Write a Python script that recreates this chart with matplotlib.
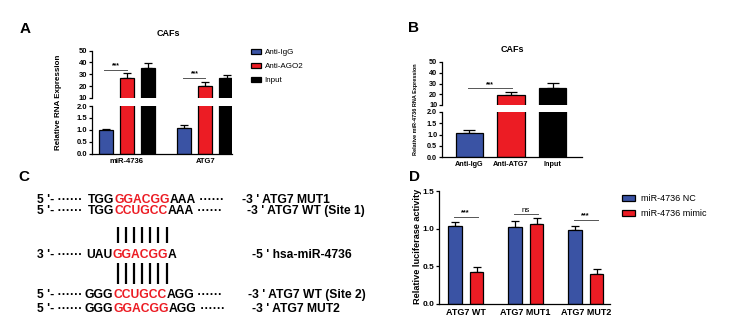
import matplotlib
matplotlib.use('Agg')
import matplotlib.pyplot as plt
from matplotlib.patches import Patch
import numpy as np

plt.rcParams['font.family'] = ['Liberation Sans', 'DejaVu Sans']

# ---------------- data ----------------
a_groups = ['miR-4736', 'ATG7']
a_series = ['Anti-IgG', 'Anti-AGO2', 'Input']
a_igg = [1.01, 1.08]
a_igg_err = [0.04, 0.11]
a_ago2 = [26.8, 20.5]
a_ago2_err = [4.2, 2.9]
a_input = [35.3, 26.8]
a_input_err = [4.2, 2.2]
a_sig_y = [34, 27]
a_sig_txt = ['***', '***']

b_cats = ['Anti-IgG', 'Anti-ATG7', 'Input']
b_vals = [1.08, 19.3, 25.5]
b_errs = [0.12, 3.0, 4.7]
b_sig_y = 25.5
b_sig_txt = '***'

top_ticks = [10, 20, 30, 40, 50]
bot_ticks = [0.0, 0.5, 1.0, 1.5, 2.0]

d_groups = ['ATG7 WT', 'ATG7 MUT1', 'ATG7 MUT2']
d_series = ['miR-4736 NC', 'miR-4736 mimic']
d_nc = [1.035, 1.02, 0.98]
d_nc_err = [0.055, 0.08, 0.06]
d_mimic = [0.42, 1.06, 0.40]
d_mimic_err = [0.07, 0.08, 0.07]
d_sig_y = [1.15, 1.19, 1.115]
d_sig_txt = ['***', 'ns', '***']
d_ticks = [0.0, 0.5, 1.0, 1.5]

c_rows = [
    ("5 '- ······ ", [("TGG", 'k'), ("GGACGG", 'r'), ("AAA", 'k'), (" ······", 'k')], "-3 ' ATG7 MUT1"),
    ("5 '- ······ ", [("TGG", 'k'), ("CCUGCC", 'r'), ("AAA", 'k'), (" ······", 'k')], "-3 ' ATG7 WT (Site 1)"),
    ("3 '- ······ ", [("UAU", 'k'), ("GGACGG", 'r'), ("A", 'k')], "-5 ' hsa-miR-4736"),
    ("5 '- ······ ", [("GGG", 'k'), ("CCUGCC", 'r'), ("AGG", 'k'), (" ······", 'k')], "-3 ' ATG7 WT (Site 2)"),
    ("5 '- ······ ", [("GGG", 'k'), ("GGACGG", 'r'), ("AGG", 'k'), (" ······", 'k')], "-3 ' ATG7 MUT2"),
]

# ---------------- styles ----------------
BLUE = '#3a53a4'
RED = '#ec1c24'
BLACK = '#000000'
W, H = 748, 328
fig = plt.figure(figsize=(W / 100, H / 100), dpi=100)

ov = fig.add_axes([0, 0, 1, 1], zorder=-1)
ov.set_xlim(0, W)
ov.set_ylim(H, 0)
ov.axis('off')


def rect(x0, x1, y0, y1):
    return [x0 / W, 1 - y1 / H, (x1 - x0) / W, (y1 - y0) / H]


LW = 0.9


def style_axis(ax, fs, xfs=None):
    for s in ['top', 'right']:
        ax.spines[s].set_visible(False)
    for s in ['left', 'bottom']:
        ax.spines[s].set_linewidth(LW)
    ax.tick_params(axis='y', labelsize=fs, length=2.5, width=LW, pad=1)
    ax.tick_params(axis='x', length=0, labelsize=xfs or fs, pad=3)
    for lab in ax.get_yticklabels() + ax.get_xticklabels():
        lab.set_fontweight('bold')


def draw_bars(ax_top, ax_bot, xs, vals, errs, colors, width, cap):
    for ax in (ax_top, ax_bot):
        ax.bar(xs, vals, width, color=colors, edgecolor='black', linewidth=LW, zorder=2)
    for x, v, e in zip(xs, vals, errs):
        ax = ax_top if v > 10 else ax_bot
        ax.errorbar(x, v, yerr=[[0], [e]], fmt='none', ecolor='black',
                    elinewidth=LW, capsize=cap, capthick=LW, zorder=1)


def make_broken(r_top, r_bot, xlim):
    at = fig.add_axes(r_top)
    ab = fig.add_axes(r_bot)
    for ax in (at, ab):
        ax.set_xlim(*xlim)
    at.set_ylim(10, 50)
    at.set_yticks(top_ticks)
    at.set_yticklabels([str(t) for t in top_ticks])
    ab.set_ylim(0, 2)
    ab.set_yticks(bot_ticks)
    ab.set_yticklabels([f'{t:.1f}' for t in bot_ticks])
    at.spines['bottom'].set_visible(False)
    at.set_xticks([])
    return at, ab


# ---------------- Panel A ----------------
off = 0.27
wA = 0.18
xg = np.arange(len(a_groups))
atA, abA = make_broken(rect(92, 232, 50.5, 98), rect(92, 232, 106, 153.5), (-0.443, 1.34))
colsA = [BLUE, RED, BLACK]
for i, (vals, errs) in enumerate([(a_igg, a_igg_err), (a_ago2, a_ago2_err), (a_input, a_input_err)]):
    draw_bars(atA, abA, xg + (i - 1) * off, vals, errs, [colsA[i]] * len(vals), wA, 2.6)
abA.set_xticks(xg)
abA.set_xticklabels(a_groups)
style_axis(atA, 5.5)
style_axis(abA, 5.5)
for gi, (sy, st) in enumerate(zip(a_sig_y, a_sig_txt)):
    atA.plot([gi - off - 0.02, gi + 0.0], [sy, sy], color='#555555', lw=0.7)
    atA.text(gi - off / 2, sy + 0.5, st, ha='center', va='bottom', fontsize=4.8, fontweight='bold')
fig.text(58 / W, 1 - 102 / H, 'Relative RNA Expression', rotation=90, ha='center', va='center',
         fontsize=5.8, fontweight='bold')
fig.text(168 / W, 1 - 33 / H, 'CAFs', ha='center', va='center', fontsize=6.5, fontweight='bold')
legA = fig.legend([Patch(facecolor=c, edgecolor='black', linewidth=LW) for c in colsA], a_series,
                  loc='upper left', bbox_to_anchor=(251 / W, 1 - 49 / H), frameon=False,
                  fontsize=5.8, handlelength=1.2, handleheight=0.5, handletextpad=0.5,
                  labelspacing=0.85, borderpad=0, borderaxespad=0)

# ---------------- Panel B ----------------
xb = np.arange(len(b_cats))
atB, abB = make_broken(rect(442, 582, 62, 105), rect(442, 582, 112, 157), (-0.66, 2.71))
draw_bars(atB, abB, xb, b_vals, b_errs, [BLUE, RED, BLACK], 0.66, 4.5)
abB.set_xticks(xb)
abB.set_xticklabels(b_cats)
style_axis(atB, 5.2)
style_axis(abB, 5.2)
atB.plot([-0.03, 1.02], [b_sig_y, b_sig_y], color='#555555', lw=0.7)
atB.text(0.5, b_sig_y + 0.5, b_sig_txt, ha='center', va='bottom', fontsize=4.8, fontweight='bold')
fig.text(416 / W, 1 - 109 / H, 'Relative miR-4736 RNA Expression', rotation=90, ha='center',
         va='center', fontsize=4.0, fontweight='bold')
fig.text(512 / W, 1 - 50 / H, 'CAFs', ha='center', va='center', fontsize=6.5, fontweight='bold')

# ---------------- Panel D ----------------
axD = fig.add_axes(rect(439, 610, 191, 304))
xd = np.arange(len(d_groups))
offD = 0.18
wD = 0.23
axD.bar(xd - offD, d_nc, wD, color=BLUE, edgecolor='black', linewidth=LW, zorder=2, label=d_series[0])
axD.bar(xd + offD, d_mimic, wD, color=RED, edgecolor='black', linewidth=LW, zorder=2, label=d_series[1])
axD.errorbar(xd - offD, d_nc, yerr=[np.zeros(3), d_nc_err], fmt='none', ecolor='black',
             elinewidth=LW, capsize=2.6, capthick=LW, zorder=1)
axD.errorbar(xd + offD, d_mimic, yerr=[np.zeros(3), d_mimic_err], fmt='none', ecolor='black',
             elinewidth=LW, capsize=2.6, capthick=LW, zorder=1)
axD.set_xlim(-0.445, 2.405)
axD.set_ylim(0, 1.5)
axD.set_yticks(d_ticks)
axD.set_yticklabels([f'{t:.1f}' for t in d_ticks])
axD.set_xticks(xd)
axD.set_xticklabels(d_groups)
style_axis(axD, 6, 6.5)
for gi, (sy, st) in enumerate(zip(d_sig_y, d_sig_txt)):
    axD.plot([gi - offD - 0.02, gi + offD + 0.02], [sy, sy], color='#555555', lw=0.7)
    axD.text(gi, sy + 0.01, st, ha='center', va='bottom', fontsize=5.8 if st == 'ns' else 5.2,
             fontweight='bold' if st != 'ns' else 'normal')
fig.text(417 / W, 1 - 246 / H, 'Relative luciferase activity', rotation=90, ha='center', va='center',
         fontsize=6.6, fontweight='bold')
axD.legend(loc='upper left', bbox_to_anchor=(622 / W, 1 - 194 / H), bbox_transform=fig.transFigure,
           frameon=False, fontsize=6.5, handlelength=1.45, handleheight=0.6, handletextpad=0.7,
           labelspacing=0.65, borderpad=0, borderaxespad=0)

# ---------------- Panel C ----------------
FS_C = 8.7
prefix_x = 37
seq_x = [88, 88, 86, 85, 85]
lab_x = [242, 247, 252, 248, 252]
base_y = [202.7, 214.3, 257.7, 297.7, 311.7]
for (pre, pieces, lab), sx, lx, by in zip(c_rows, seq_x, lab_x, base_y):
    ov.text(prefix_x, by, pre, fontsize=FS_C, fontweight='bold', ha='left', va='baseline')
    t = None
    for s, c in pieces:
        col = RED if c == 'r' else BLACK
        if t is None:
            t = ov.text(sx, by, s, fontsize=FS_C, fontweight='bold', color=col, ha='left', va='baseline')
        else:
            t = ov.annotate(s, xy=(1, 0), xycoords=t, ha='left', va='bottom', fontsize=FS_C,
                            fontweight='bold', color=col)
    ov.text(lx, by, lab, fontsize=FS_C, fontweight='bold', ha='left', va='baseline')

n_pairs = len(c_rows[2][1][1][0]) + 1
pair_x = 118 + 8.1 * np.arange(n_pairs)
for px in pair_x:
    ov.plot([px, px], [227, 242.5], color='black', lw=1.6, solid_capstyle='butt')
    ov.plot([px, px], [263, 283.5], color='black', lw=1.6, solid_capstyle='butt')

# panel letters
for letter, (lx, ly) in zip('ABCD', [(25, 29), (414, 28), (24, 177), (415, 177)]):
    ov.text(lx, ly, letter, fontsize=11, fontweight='bold', ha='center', va='center')

fig.savefig('out.png', dpi=100)
